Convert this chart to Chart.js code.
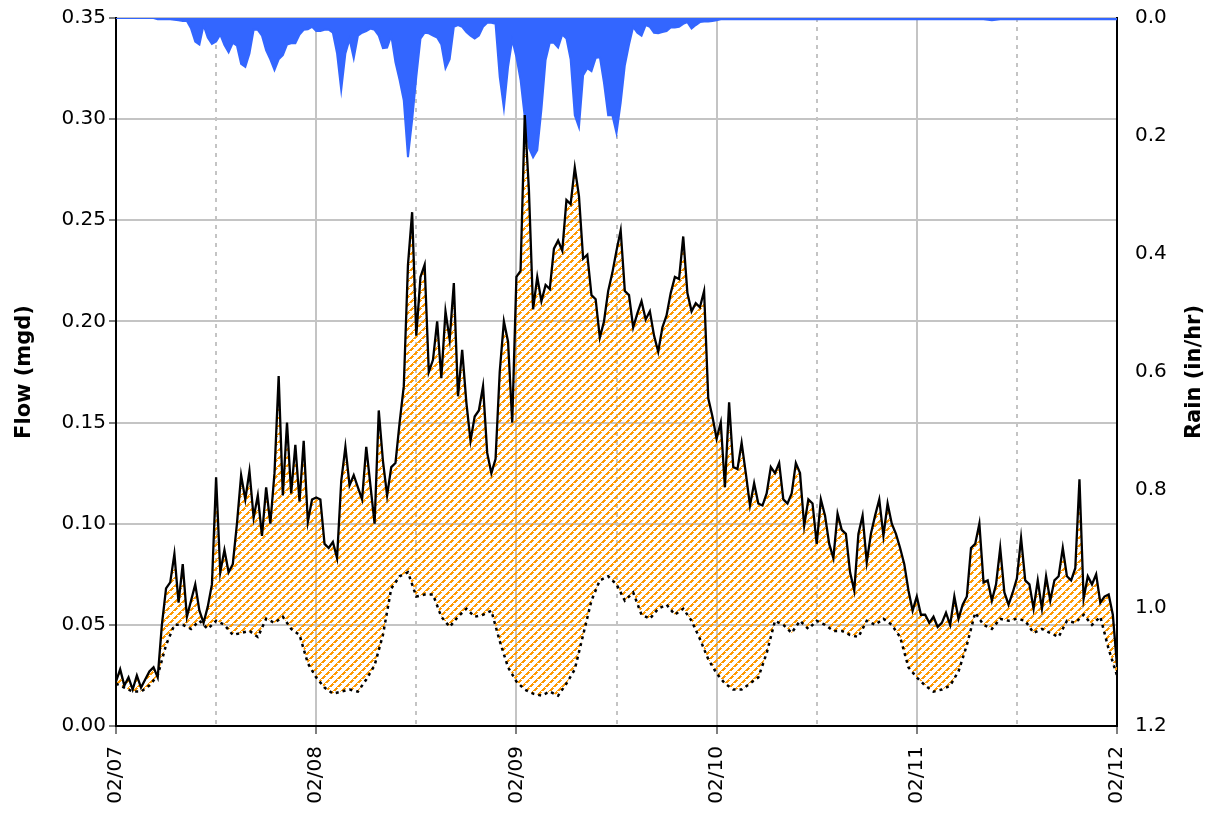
<!DOCTYPE html>
<html>
<head>
<meta charset="utf-8">
<script src="https://cdn.jsdelivr.net/npm/chart.js@4.4.0/dist/chart.umd.min.js"></script>
<style>
  html, body { margin: 0; padding: 0; background: #fff; }
</style>
</head>
<body>
<canvas id="chart" width="1217" height="815"></canvas>
<script>
// x axis is hours since 02/07 00:00
const dayLabels = ['02/07', '02/08', '02/09', '02/10', '02/11', '02/12'];
const flowTicks = [0, 0.05, 0.10, 0.15, 0.20, 0.25, 0.30, 0.35];
const rainTicks = [0, 0.2, 0.4, 0.6, 0.8, 1.0, 1.2];

// flow, one reading every 30 min (mgd)
const flowStep = 0.5;
const flow = [
  0.022, 0.028, 0.020, 0.024, 0.018, 0.025, 0.019, 0.023, 0.027, 0.029,
  0.024, 0.050, 0.068, 0.071, 0.085, 0.061, 0.080, 0.054, 0.062, 0.070,
  0.057, 0.051, 0.059, 0.070, 0.123, 0.076, 0.087, 0.076, 0.080, 0.100,
  0.124, 0.112, 0.126, 0.103, 0.114, 0.094, 0.118, 0.100, 0.125, 0.173,
  0.114, 0.150, 0.115, 0.139, 0.111, 0.141, 0.101, 0.112, 0.113, 0.112,
  0.090, 0.088, 0.091, 0.083, 0.121, 0.138, 0.119, 0.124, 0.118, 0.112,
  0.138, 0.119, 0.100, 0.156, 0.131, 0.114, 0.128, 0.130, 0.150, 0.168,
  0.228, 0.254, 0.193, 0.222, 0.228, 0.175, 0.181, 0.200, 0.172, 0.205,
  0.191, 0.219, 0.163, 0.186, 0.160, 0.141, 0.153, 0.156, 0.168, 0.135,
  0.125, 0.132, 0.175, 0.200, 0.190, 0.150, 0.222, 0.225, 0.302, 0.265,
  0.206, 0.222, 0.210, 0.218, 0.216, 0.236, 0.240, 0.235, 0.260, 0.258,
  0.276, 0.262, 0.231, 0.233, 0.213, 0.211, 0.192, 0.200, 0.215, 0.224,
  0.235, 0.245, 0.215, 0.213, 0.197, 0.204, 0.210, 0.201, 0.205, 0.193,
  0.185, 0.197, 0.203, 0.214, 0.222, 0.221, 0.242, 0.214, 0.205, 0.209,
  0.207, 0.215, 0.162, 0.153, 0.142, 0.150, 0.118, 0.160, 0.128, 0.127,
  0.140, 0.125, 0.109, 0.120, 0.110, 0.109, 0.115, 0.128, 0.125, 0.130,
  0.112, 0.110, 0.115, 0.130, 0.125, 0.099, 0.112, 0.110, 0.090, 0.112,
  0.104, 0.090, 0.083, 0.105, 0.097, 0.095, 0.076, 0.067, 0.095, 0.104,
  0.081, 0.095, 0.104, 0.112, 0.094, 0.110, 0.100, 0.095, 0.088, 0.080,
  0.067, 0.057, 0.064, 0.055, 0.055, 0.051, 0.054, 0.049, 0.051, 0.056,
  0.050, 0.064, 0.053, 0.060, 0.064, 0.088, 0.090, 0.100, 0.071, 0.072,
  0.062, 0.070, 0.088, 0.066, 0.060, 0.066, 0.073, 0.093, 0.072, 0.070,
  0.058, 0.072, 0.058, 0.074, 0.062, 0.072, 0.074, 0.088, 0.074, 0.072,
  0.078, 0.122, 0.063, 0.074, 0.070, 0.075, 0.061, 0.064, 0.065, 0.055,
  0.030
];

// base (dry weather) flow, hourly (mgd)
const baseStep = 1;
const baseFlow = [
  0.021, 0.019, 0.017, 0.017, 0.020, 0.025, 0.040, 0.050, 0.050, 0.048,
  0.052, 0.048, 0.052, 0.050, 0.045, 0.046, 0.047, 0.044, 0.053, 0.051,
  0.054, 0.048, 0.045, 0.031, 0.024, 0.019, 0.016, 0.017, 0.018, 0.017,
  0.023, 0.030, 0.045, 0.068, 0.074, 0.076, 0.064, 0.065, 0.065, 0.054,
  0.049, 0.054, 0.058, 0.054, 0.055, 0.057, 0.042, 0.029, 0.022, 0.018,
  0.016, 0.015, 0.017, 0.015, 0.021, 0.028, 0.045, 0.062, 0.072, 0.074,
  0.070, 0.062, 0.066, 0.055, 0.053, 0.058, 0.060, 0.055, 0.058, 0.052,
  0.043, 0.033, 0.026, 0.021, 0.018, 0.018, 0.021, 0.024, 0.036, 0.052,
  0.050, 0.046, 0.052, 0.048, 0.052, 0.050, 0.047, 0.047, 0.045, 0.044,
  0.052, 0.050, 0.053, 0.050, 0.044, 0.029, 0.024, 0.020, 0.017, 0.018,
  0.020, 0.027, 0.040, 0.056, 0.050, 0.048, 0.053, 0.052, 0.053, 0.052,
  0.046, 0.048, 0.046, 0.044, 0.052, 0.051, 0.055, 0.050, 0.054, 0.038,
  0.025
];

// rain intensity every 30 min (in/hr)
const rainStep = 0.5;
const rain = [
  0.000, 0.000, 0.000, 0.000, 0.000, 0.000, 0.000, 0.000, 0.000, 0.000,
  0.002, 0.002, 0.002, 0.002, 0.003, 0.004, 0.005, 0.005, 0.018, 0.040,
  0.045, 0.012, 0.033, 0.044, 0.040, 0.028, 0.046, 0.058, 0.042, 0.047,
  0.078, 0.083, 0.060, 0.020, 0.020, 0.030, 0.055, 0.070, 0.088, 0.070,
  0.063, 0.045, 0.043, 0.043, 0.028, 0.020, 0.019, 0.015, 0.022, 0.022,
  0.020, 0.020, 0.025, 0.060, 0.122, 0.060, 0.036, 0.068, 0.030, 0.025,
  0.022, 0.018, 0.020, 0.030, 0.051, 0.050, 0.030, 0.075, 0.105, 0.140,
  0.236, 0.173, 0.100, 0.035, 0.025, 0.026, 0.030, 0.033, 0.045, 0.085,
  0.070, 0.015, 0.012, 0.015, 0.024, 0.030, 0.035, 0.030, 0.015, 0.008,
  0.008, 0.010, 0.100, 0.153, 0.083, 0.037, 0.066, 0.105, 0.168, 0.220,
  0.236, 0.224, 0.155, 0.071, 0.042, 0.042, 0.050, 0.028, 0.035, 0.070,
  0.165, 0.185, 0.097, 0.085, 0.090, 0.068, 0.066, 0.110, 0.165, 0.165,
  0.195, 0.144, 0.080, 0.045, 0.015, 0.025, 0.030, 0.012, 0.015, 0.025,
  0.026, 0.024, 0.022, 0.016, 0.016, 0.015, 0.010, 0.007, 0.018, 0.012,
  0.007, 0.006, 0.006, 0.005, 0.004, 0.002, 0.002, 0.002, 0.002, 0.002,
  0.002, 0.002, 0.002, 0.002, 0.002, 0.002, 0.002, 0.002, 0.002, 0.002,
  0.002, 0.002, 0.002, 0.002, 0.002, 0.002, 0.002, 0.002, 0.002, 0.002,
  0.002, 0.002, 0.002, 0.002, 0.002, 0.002, 0.002, 0.002, 0.002, 0.002,
  0.002, 0.002, 0.002, 0.002, 0.002, 0.002, 0.002, 0.002, 0.002, 0.002,
  0.002, 0.002, 0.002, 0.002, 0.002, 0.002, 0.002, 0.002, 0.002, 0.002,
  0.002, 0.002, 0.002, 0.002, 0.002, 0.002, 0.002, 0.002, 0.002, 0.003,
  0.004, 0.003, 0.002, 0.002, 0.002, 0.002, 0.002, 0.002, 0.002, 0.002,
  0.002, 0.002, 0.002, 0.002, 0.002, 0.002, 0.002, 0.002, 0.002, 0.002,
  0.002, 0.002, 0.002, 0.002, 0.002, 0.002, 0.002, 0.002, 0.002, 0.002,
  0.002
];

const toPoints = (arr, step) => arr.map((v, i) => ({ x: i * step, y: v }));

// orange dashed diagonal hatch for the area between flow and base flow
function makeHatch() {
  const n = 8;
  const c = document.createElement('canvas');
  c.width = n; c.height = n;
  const g = c.getContext('2d');
  g.fillStyle = '#ff9900';
  for (let r = 0; r < n; r++) {
    const x0 = n - 1 - r;
    const w = r % 4 === 3 ? 1 : 3;
    for (let k = 0; k < w; k++) g.fillRect((x0 + k) % n, r, 1, 1);
  }
  return g.createPattern(c, 'repeat');
}

const FONT = '"DejaVu Sans", sans-serif';
Chart.defaults.font.family = FONT;
Chart.defaults.font.size = 20;
Chart.defaults.color = '#000';

const gridGrey = '#c4c4c4';

// right axis title reads bottom-to-top, like the left one
const rightTitle = {
  id: 'rightTitle',
  afterDraw(chart) {
    const { ctx, chartArea } = chart;
    ctx.save();
    ctx.translate(chart.width - 22, (chartArea.top + chartArea.bottom) / 2);
    ctx.rotate(-Math.PI / 2);
    ctx.font = 'bold 21px ' + FONT;
    ctx.fillStyle = '#000';
    ctx.textAlign = 'center';
    ctx.textBaseline = 'middle';
    ctx.fillText('Rain (in/hr)', 0, 0);
    ctx.restore();
  }
};

const ctx = document.getElementById('chart').getContext('2d');
new Chart(ctx, {
  type: 'line',
  data: {
    datasets: [
      {
        label: 'Flow',
        data: toPoints(flow, flowStep),
        yAxisID: 'y',
        borderColor: '#000',
        borderWidth: 2.3,
        backgroundColor: makeHatch(),
        fill: 1
      },
      {
        label: 'Base flow',
        data: toPoints(baseFlow, baseStep),
        yAxisID: 'y',
        borderColor: '#000',
        borderWidth: 2.5,
        borderDash: [3, 4],
        fill: false
      },
      {
        label: 'Rain',
        data: toPoints(rain, rainStep),
        yAxisID: 'y2',
        borderColor: '#3366ff',
        borderWidth: 2,
        backgroundColor: '#3366ff',
        fill: 'origin'
      }
    ]
  },
  options: {
    responsive: false,
    animation: false,
    layout: { padding: { top: 18, left: 0, right: 0, bottom: 0 } },
    elements: { point: { radius: 0 }, line: { tension: 0 } },
    plugins: {
      legend: { display: false },
      tooltip: { enabled: false },
      filler: { drawTime: 'beforeDatasetsDraw' }
    },
    scales: {
      x: {
        type: 'linear',
        min: 0,
        max: (dayLabels.length - 1) * 24,
        afterBuildTicks: s => {
          const t = [];
          dayLabels.forEach((d, i) => {
            t.push({ value: i * 24 });
            if (i < dayLabels.length - 1) t.push({ value: i * 24 + 12 });
          });
          s.ticks = t;
        },
        ticks: {
          autoSkip: false,
          minRotation: 90,
          maxRotation: 90,
          padding: 12,
          callback: v => (v % 24 === 0 ? dayLabels[v / 24] : '')
        },
        grid: {
          color: gridGrey,
          lineWidth: 2,
          tickLength: 8,
          tickWidth: 1.5,
          tickColor: c => (c.tick && c.tick.value % 24 === 0 ? '#555' : 'rgba(0,0,0,0)')
        },
        border: {
          color: '#000',
          width: 2,
          dash: c => (c.tick && c.tick.value % 24 !== 0 ? [4, 5] : [])
        },
        afterFit: s => { s.height = 89; }
      },
      y: {
        position: 'left',
        min: 0,
        max: 0.35,
        afterBuildTicks: s => { s.ticks = flowTicks.map(v => ({ value: v })); },
        ticks: { padding: 3, callback: v => v.toFixed(2) },
        grid: { color: gridGrey, lineWidth: 2, tickLength: 7, tickColor: '#555', tickWidth: 1.5 },
        border: { color: '#000', width: 2 },
        title: {
          display: true,
          text: 'Flow (mgd)',
          font: { size: 21, weight: 'bold' },
          padding: { top: 12, bottom: 0 }
        },
        afterFit: s => { s.width = 116; s.paddingTop = 0; s.paddingBottom = 0; }
      },
      y2: {
        position: 'right',
        min: 0,
        max: 1.2,
        reverse: true,
        afterBuildTicks: s => { s.ticks = rainTicks.map(v => ({ value: v })); },
        ticks: { padding: 18, callback: v => v.toFixed(1) },
        grid: { drawOnChartArea: false, drawTicks: false },
        border: { color: '#000', width: 2 },
        afterFit: s => { s.width = 100; s.paddingTop = 0; s.paddingBottom = 0; }
      }
    }
  },
  plugins: [rightTitle]
});
</script>
</body>
</html>
